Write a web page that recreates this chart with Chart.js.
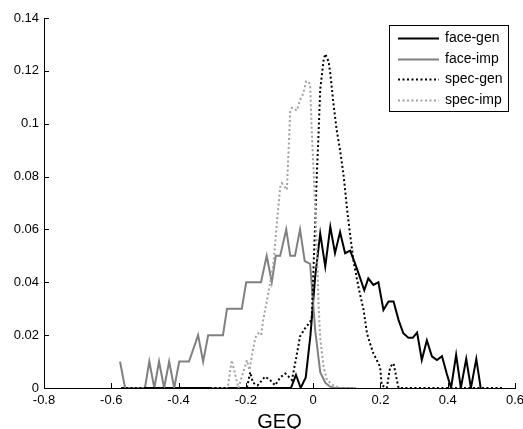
<!DOCTYPE html>
<html>
<head>
<meta charset="utf-8">
<script src="https://cdn.jsdelivr.net/npm/chart.js@4.4.1/dist/chart.umd.min.js"></script>
<style>
  html, body { margin: 0; padding: 0; background: #fff; }
  #wrap { width: 523px; height: 429px; }
</style>
</head>
<body>
<div id="wrap"><canvas id="geq"></canvas></div>
<script>
// GEQ distributions: genuine / impostor for face and spec matchers
const seriesNames = ['face-gen', 'face-imp', 'spec-gen', 'spec-imp'];

const faceGenX = [-0.57, -0.066, -0.051, -0.037, -0.022, -0.008, 0.006, 0.021, 0.036, 0.051, 0.065, 0.080, 0.095, 0.110, 0.125, 0.140, 0.152, 0.164, 0.179, 0.194, 0.209, 0.224, 0.239, 0.254, 0.268, 0.283, 0.296, 0.309, 0.323, 0.338, 0.353, 0.368, 0.383, 0.397, 0.410, 0.425, 0.439, 0.455, 0.469, 0.485, 0.498];
const faceGenY = [0, 0, 0.005, 0, 0.004, 0.02, 0.042, 0.0585, 0.046, 0.061, 0.051, 0.059, 0.051, 0.052, 0.047, 0.0415, 0.037, 0.0415, 0.039, 0.040, 0.0295, 0.0327, 0.0327, 0.0257, 0.0207, 0.019, 0.019, 0.021, 0.0106, 0.018, 0.012, 0.0106, 0.012, 0.0055, 0, 0.0125, 0, 0.011, 0, 0.011, 0];

const faceImpX = [-0.574, -0.559, -0.50, -0.487, -0.472, -0.458, -0.443, -0.428, -0.413, -0.398, -0.369, -0.342, -0.327, -0.312, -0.268, -0.256, -0.212, -0.199, -0.155, -0.138, -0.123, -0.111, -0.098, -0.080, -0.068, -0.054, -0.039, -0.025, -0.009, 0.006, 0.021, 0.036, 0.050, 0.065, 0.12];
const faceImpY = [0.01, 0, 0, 0.01, 0, 0.01, 0, 0.01, 0, 0.01, 0.01, 0.02, 0.01, 0.02, 0.02, 0.03, 0.03, 0.04, 0.04, 0.05, 0.04, 0.05, 0.05, 0.06, 0.05, 0.05, 0.06, 0.048, 0.047, 0.022, 0.006, 0.002, 0.0005, 0, 0];

const specGenX = [-0.57, -0.197, -0.187, -0.179, -0.165, -0.143, -0.128, -0.113, -0.098, -0.083, -0.073, -0.063, -0.048, -0.039, -0.024, -0.009, -0.004, 0.001, 0.006, 0.011, 0.016, 0.021, 0.031, 0.036, 0.046, 0.051, 0.060, 0.070, 0.080, 0.090, 0.095, 0.100, 0.108, 0.120, 0.135, 0.150, 0.160, 0.169, 0.179, 0.189, 0.199, 0.204, 0.219, 0.229, 0.239, 0.249, 0.254, 0.565];
const specGenY = [0, 0, 0.006, 0.002, 0.001, 0.0043, 0.003, 0.001, 0.004, 0.0055, 0.0043, 0.003, 0.013, 0.0195, 0.0226, 0.025, 0.027, 0.045, 0.062, 0.081, 0.096, 0.113, 0.124, 0.1264, 0.1235, 0.119, 0.108, 0.0976, 0.090, 0.081, 0.075, 0.0686, 0.06, 0.048, 0.038, 0.0295, 0.0207, 0.0169, 0.0131, 0.0106, 0.008, 0.001, 0, 0.008, 0.0093, 0.003, 0, 0];

const specImpX = [-0.30, -0.254, -0.242, -0.222, -0.197, -0.189, -0.180, -0.172, -0.163, -0.155, -0.148, -0.133, -0.118, -0.108, -0.098, -0.093, -0.078, -0.068, -0.063, -0.048, -0.039, -0.029, -0.021, -0.014, -0.009, -0.004, 0.001, 0.006, 0.011, 0.016, 0.021, 0.031, 0.041, 0.060, 0.080, 0.13];
const specImpY = [0, 0, 0.0105, 0, 0.0105, 0.0068, 0.0137, 0.019, 0.0207, 0.020, 0.026, 0.036, 0.047, 0.062, 0.076, 0.0775, 0.075, 0.105, 0.106, 0.105, 0.109, 0.1115, 0.116, 0.116, 0.1146, 0.097, 0.083, 0.068, 0.053, 0.032, 0.019, 0.008, 0.003, 0.001, 0, 0];

const xTitle = 'GEQ';

const pts = (xs, ys) => xs.map((x, i) => ({ x, y: ys[i] }));
const fmt = v => String(parseFloat(Number(v).toFixed(2)));
const FONT = '"Liberation Sans", Arial, sans-serif';

// little boxed legend in the upper right, matlab style
const boxLegend = {
  id: 'boxLegend',
  afterDraw(chart) {
    const ctx = chart.ctx;
    const x0 = 389, y0 = 25, w = 120, h = 87;
    ctx.save();
    ctx.fillStyle = '#fff';
    ctx.fillRect(x0, y0, w, h);
    ctx.strokeStyle = '#000';
    ctx.lineWidth = 1;
    ctx.setLineDash([]);
    ctx.strokeRect(x0 + 0.5, y0 + 0.5, w - 1, h - 1);
    ctx.font = '14px ' + FONT;
    ctx.textBaseline = 'middle';
    ctx.textAlign = 'left';
    chart.data.datasets.forEach((ds, i) => {
      const y = 38 + i * 20.7;
      ctx.strokeStyle = ds.borderColor;
      ctx.lineWidth = ds.borderWidth;
      ctx.setLineDash(ds.borderDash || []);
      ctx.beginPath();
      ctx.moveTo(398, Math.round(y) + 0.5);
      ctx.lineTo(439, Math.round(y) + 0.5);
      ctx.stroke();
      ctx.setLineDash([]);
      ctx.fillStyle = '#000';
      ctx.fillText(ds.label, 445, y);
    });
    ctx.restore();
  }
};

// tick marks pointing into the plot
const innerTicks = {
  id: 'innerTicks',
  afterDraw(chart) {
    const ctx = chart.ctx;
    const a = chart.chartArea;
    const xs = chart.scales.x, ys = chart.scales.y;
    ctx.save();
    ctx.strokeStyle = '#000';
    ctx.lineWidth = 1;
    ctx.beginPath();
    xs.ticks.forEach(t => {
      const px = Math.round(xs.getPixelForValue(t.value)) + 0.5;
      ctx.moveTo(px, a.bottom);
      ctx.lineTo(px, a.bottom - 5);
    });
    ys.ticks.forEach(t => {
      const py = Math.round(ys.getPixelForValue(t.value)) + 0.5;
      ctx.moveTo(a.left, py);
      ctx.lineTo(a.left + 5, py);
    });
    ctx.stroke();
    ctx.restore();
  }
};

const dsStyle = [
  { borderColor: '#000000', borderWidth: 2, borderDash: [], order: 4 },
  { borderColor: '#808080', borderWidth: 2, borderDash: [], order: 3 },
  { borderColor: '#000000', borderWidth: 2, borderDash: [2, 2.5], order: 2 },
  { borderColor: '#a0a0a0', borderWidth: 2, borderDash: [2, 2.5], order: 1 }
];
const seriesData = [
  pts(faceGenX, faceGenY),
  pts(faceImpX, faceImpY),
  pts(specGenX, specGenY),
  pts(specImpX, specImpY)
];

new Chart(document.getElementById('geq').getContext('2d'), {
  type: 'line',
  data: {
    datasets: seriesNames.map((name, i) => Object.assign({
      label: name,
      data: seriesData[i],
      pointRadius: 0,
      tension: 0,
      fill: false,
      borderCapStyle: 'butt',
      borderJoinStyle: 'miter'
    }, dsStyle[i]))
  },
  options: {
    responsive: true,
    maintainAspectRatio: false,
    animation: false,
    layout: { padding: { left: 0, right: 8, top: 18, bottom: 0 } },
    plugins: {
      legend: { display: false },
      tooltip: { enabled: false }
    },
    scales: {
      x: {
        type: 'linear',
        min: -0.8,
        max: 0.6,
        ticks: {
          stepSize: 0.2,
          color: '#000',
          font: { family: FONT, size: 13 },
          padding: 5,
          maxRotation: 0,
          callback: fmt
        },
        grid: { drawOnChartArea: false, drawTicks: false },
        border: { display: true, color: '#000', width: 1 },
        title: {
          display: true,
          text: xTitle,
          color: '#000',
          font: { family: FONT, size: 20 },
          padding: { top: 0, bottom: -5 }
        },
        afterFit: s => { s.height = 41; s.paddingLeft = 0; s.paddingRight = 0; }
      },
      y: {
        min: 0,
        max: 0.14,
        ticks: {
          stepSize: 0.02,
          color: '#000',
          font: { family: FONT, size: 13 },
          padding: 5,
          callback: fmt
        },
        grid: { drawOnChartArea: false, drawTicks: false },
        border: { display: true, color: '#000', width: 1 },
        afterFit: s => { s.width = 44; s.paddingTop = 0; s.paddingBottom = 0; }
      }
    }
  },
  plugins: [innerTicks, boxLegend]
});
</script>
</body>
</html>
